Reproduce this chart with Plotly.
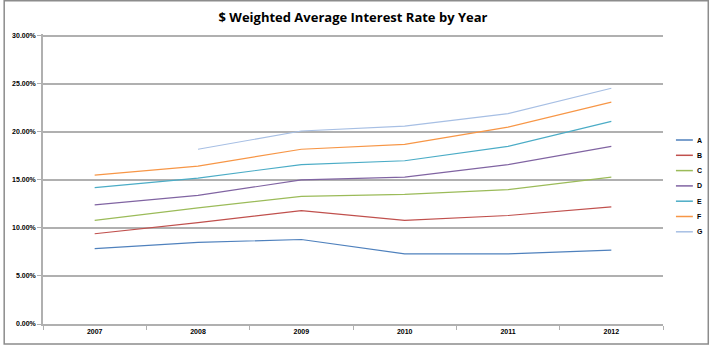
import plotly.graph_objects as go

years = ["2007", "2008", "2009", "2010", "2011", "2012"]
series_names = ["A", "B", "C", "D", "E", "F", "G"]
A = [0.0785, 0.085, 0.088, 0.073, 0.073, 0.077]
B = [0.094, 0.1055, 0.118, 0.108, 0.113, 0.122]
C = [0.108, 0.121, 0.133, 0.135, 0.140, 0.153]
D = [0.124, 0.134, 0.150, 0.153, 0.166, 0.185]
E = [0.142, 0.152, 0.166, 0.170, 0.185, 0.211]
F = [0.155, 0.1645, 0.182, 0.187, 0.205, 0.231]
G = [None, 0.182, 0.201, 0.206, 0.219, 0.2455]
colors = ["#4F81BD", "#C0504D", "#9BBB59", "#8064A2", "#4BACC6", "#F79646", "#A7BFE4"]

W, H = 710, 347
L, R, T, B_ = 40, 47, 34, 23
pw, ph = W - L - R, H - T - B_

fig = go.Figure()
for name, vals, col in zip(series_names, [A, B, C, D, E, F, G], colors):
    fig.add_trace(go.Scatter(x=years, y=vals, mode="lines", name=name,
                             line=dict(color=col, width=1.2), showlegend=False))

def px2x(p):
    return (p - L) / pw

def py2y(p):
    return (H - B_ - p) / ph

shapes = []
annotations = []
# legend (manual, Excel-like small samples)
for i, (name, col) in enumerate(zip(series_names, colors)):
    yy = 140 + 15.3 * i
    shapes.append(dict(type="line", xref="paper", yref="paper",
                       x0=px2x(676), x1=px2x(693), y0=py2y(yy), y1=py2y(yy),
                       line=dict(color=col, width=1.5)))
    annotations.append(dict(xref="paper", yref="paper", x=px2x(695), y=py2y(yy),
                            text="<b>" + name + "</b>", showarrow=False,
                            xanchor="left", yanchor="middle",
                            font=dict(size=7, color="#000000", family="Liberation Sans")))
# outer chart border
shapes.append(dict(type="rect", xref="paper", yref="paper",
                   x0=px2x(1), x1=px2x(708.5), y0=py2y(344), y1=py2y(0.8),
                   line=dict(color="#8c8c8c", width=1.5), fillcolor="rgba(0,0,0,0)", layer="below"))

tickfont = dict(size=7, color="#000000", family="Liberation Sans", weight=700)
fig.update_layout(
    width=W, height=H,
    margin=dict(l=L, r=R, t=T, b=B_),
    paper_bgcolor="white", plot_bgcolor="white",
    title=dict(text="<b>$ Weighted Average Interest Rate by Year</b>",
               x=0.5, xref="paper", xanchor="center", y=1 - 17 / H, yanchor="middle",
               font=dict(size=13, color="#000000", family="Open Sans")),
    xaxis=dict(type="category", range=[-0.5, 5.5], tickson="boundaries",
               showline=True, linecolor="#b0b0b0", linewidth=1.5,
               ticks="outside", ticklen=4, tickcolor="#b0b0b0", tickwidth=1,
               showgrid=False, zeroline=False, tickfont=tickfont),
    yaxis=dict(range=[0, 0.302], tickvals=[0, 0.05, 0.10, 0.15, 0.20, 0.25, 0.30],
               tickformat=".2%",
               showline=True, linecolor="#b0b0b0", linewidth=1.5,
               ticks="outside", ticklen=4, tickcolor="#b0b0b0",
               showgrid=True, gridcolor="#b0b0b0", gridwidth=1.5, zeroline=False,
               tickfont=tickfont),
    shapes=shapes, annotations=annotations,
    showlegend=False,
)
fig.write_html("out.html")
